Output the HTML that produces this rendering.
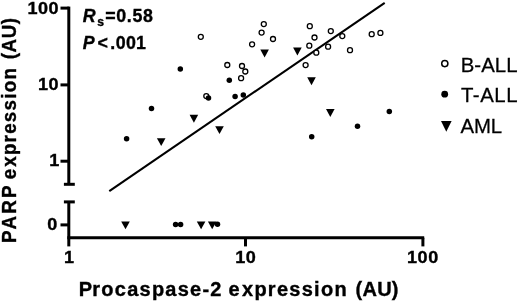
<!DOCTYPE html>
<html><head><meta charset="utf-8"><title>PARP vs Procaspase-2</title>
<style>
html,body{margin:0;padding:0;background:#fff;}
svg{display:block;font-family:"Liberation Sans",Arial,sans-serif;}
.b{font-weight:bold;stroke:#000;stroke-width:0.35;}
.r{stroke:#000;stroke-width:0.25;}
</style></head><body>
<svg width="520" height="302" viewBox="0 0 520 302">
<rect width="520" height="302" fill="#fff"/>
<g stroke="#000" stroke-width="3.0" fill="none" stroke-linecap="butt">
<path d="M68.8,6.6 V184.3"/>
<path d="M68.8,201.9 V246.4"/>
<path d="M60.5,8.1 H68.8"/>
<path d="M60.5,84.9 H68.8"/>
<path d="M60.5,161.2 H68.8"/>
<path d="M60.5,224.9 H68.8"/>
<path d="M63.9,184.3 H74.8"/>
<path d="M63.9,201.9 H74.8"/>
<path d="M67.3,237.7 H424.2"/>
<path d="M245.5,237.7 V246.4"/>
<path d="M422.9,237.7 V246.4"/>
</g>
<path d="M109.3,191.1 L384.7,2.8" stroke="#000" stroke-width="2.1" fill="none"/>
<g fill="#fff" stroke="#000" stroke-width="1.3">
<circle cx="200.8" cy="36.8" r="2.5"/>
<circle cx="206.3" cy="96.1" r="2.5"/>
<circle cx="227.3" cy="65" r="2.5"/>
<circle cx="242" cy="66" r="2.5"/>
<circle cx="245.3" cy="71.5" r="2.5"/>
<circle cx="241.1" cy="78.2" r="2.5"/>
<circle cx="252.1" cy="44.3" r="2.5"/>
<circle cx="261.6" cy="32.6" r="2.5"/>
<circle cx="263.8" cy="24.1" r="2.5"/>
<circle cx="273" cy="39" r="2.5"/>
<circle cx="305.6" cy="65.1" r="2.5"/>
<circle cx="309.8" cy="26.2" r="2.5"/>
<circle cx="314.5" cy="37.5" r="2.5"/>
<circle cx="309.3" cy="45.7" r="2.5"/>
<circle cx="316.3" cy="52.7" r="2.5"/>
<circle cx="330.8" cy="31.1" r="2.5"/>
<circle cx="328.1" cy="46.7" r="2.5"/>
<circle cx="342.3" cy="36.1" r="2.5"/>
<circle cx="350" cy="50.2" r="2.5"/>
<circle cx="371.7" cy="34.2" r="2.5"/>
<circle cx="380.4" cy="32.9" r="2.5"/>
</g>
<g fill="#000">
<circle cx="126.6" cy="138.7" r="2.75"/>
<circle cx="151.5" cy="108.6" r="2.75"/>
<circle cx="180.3" cy="69" r="2.75"/>
<circle cx="208.5" cy="98" r="2.75"/>
<circle cx="229.3" cy="80.3" r="2.75"/>
<circle cx="235.1" cy="96.5" r="2.75"/>
<circle cx="243.3" cy="95.1" r="2.75"/>
<circle cx="311.7" cy="136.8" r="2.75"/>
<circle cx="357.5" cy="126.3" r="2.75"/>
<circle cx="389.3" cy="111.6" r="2.75"/>
<circle cx="175.6" cy="224.5" r="2.75"/>
<circle cx="180.6" cy="224.5" r="2.75"/>
<circle cx="217.5" cy="224.3" r="2.75"/>
<polygon points="156.9,138.2 165.5,138.2 161.2,146.1"/>
<polygon points="189.6,114.8 198.2,114.8 193.9,122.8"/>
<polygon points="215.2,126.2 223.8,126.2 219.5,134.1"/>
<polygon points="260.3,49.6 268.9,49.6 264.6,57.6"/>
<polygon points="293.1,47.4 301.7,47.4 297.4,55.4"/>
<polygon points="307.2,77.3 315.8,77.3 311.5,85.2"/>
<polygon points="326.0,109.1 334.6,109.1 330.3,117.0"/>
<polygon points="121.2,221.4 129.8,221.4 125.5,229.2"/>
<polygon points="196.8,221.4 205.4,221.4 201.1,229.2"/>
<polygon points="207.9,221.4 216.5,221.4 212.2,229.2"/>
</g>
<circle cx="444.8" cy="63.6" r="3.1" fill="#fff" stroke="#000" stroke-width="1.5"/>
<circle cx="444.7" cy="94.2" r="3.4" fill="#000"/>
<polygon points="441.0,121.0 451.6,121.0 446.3,131.7" fill="#000"/>
<g class="r" font-size="19.4" fill="#000">
<text transform="translate(460.7,71.6) scale(1.05,1)" letter-spacing="0.05">B-ALL</text>
<text transform="translate(460.9,102.3) scale(1.05,1)" letter-spacing="0.55">T-ALL</text>
<text transform="translate(460.6,133.4) scale(1.05,1)" letter-spacing="-0.2">AML</text>
</g>
<g class="b" font-size="17.2" fill="#000">
<text transform="translate(27.6,13.6) scale(1.05,1)" letter-spacing="0.45">100</text>
<text transform="translate(38.1,90.0) scale(1.05,1)" letter-spacing="0.45">10</text>
<text transform="translate(49.3,166.1) scale(1.05,1)">1</text>
<text transform="translate(47.25,230.2) scale(1.05,1)">0</text>
<text transform="translate(64.0,263.2) scale(1.05,1)">1</text>
<text transform="translate(235.2,263.2) scale(1.05,1)" letter-spacing="0.57">10</text>
<text transform="translate(406.9,263.2) scale(1.05,1)" letter-spacing="0.62">100</text>
</g>
<g class="b" font-size="19.05" fill="#000">
<text transform="translate(78.8,296.0) scale(1.05,1.04)" letter-spacing="1.19" dx="0 -1">Procaspase-2</text>
<text transform="translate(228.55,296.0) scale(1.05,1.04)" letter-spacing="1.22" dx="0 1">expression</text>
<text transform="translate(355.5,296.0) scale(1.05,1.04)" letter-spacing="0.27">(AU)</text>
</g>
<g class="b" font-size="18.8" fill="#000">
<text transform="translate(16.4,242.9) scale(1.05,1) rotate(-90)" letter-spacing="2.2">PARP</text>
<text transform="translate(16.4,179.3) scale(1.05,1) rotate(-90)" letter-spacing="1.24" dx="0 0.8">expression</text>
<text transform="translate(16.4,59.3) scale(1.05,1) rotate(-90)" letter-spacing="0.57">(AU)</text>
</g>
<g class="b" font-size="17.8" fill="#000" letter-spacing="0.65">
<text transform="translate(82.8,22.0) scale(1,1.04)"><tspan font-style="italic">R</tspan><tspan font-size="12.2" dy="3.6" dx="0.9">s</tspan><tspan dy="-3.6" dx="0.6">=0.58</tspan></text>
<text transform="translate(82.8,49.3) scale(1,1.04)" letter-spacing="1.15" dx="0 1.8 1.0 -0.5 -0.8 -1.1"><tspan font-style="italic">P</tspan>&lt;.001</text>
</g>
</svg>
</body></html>
